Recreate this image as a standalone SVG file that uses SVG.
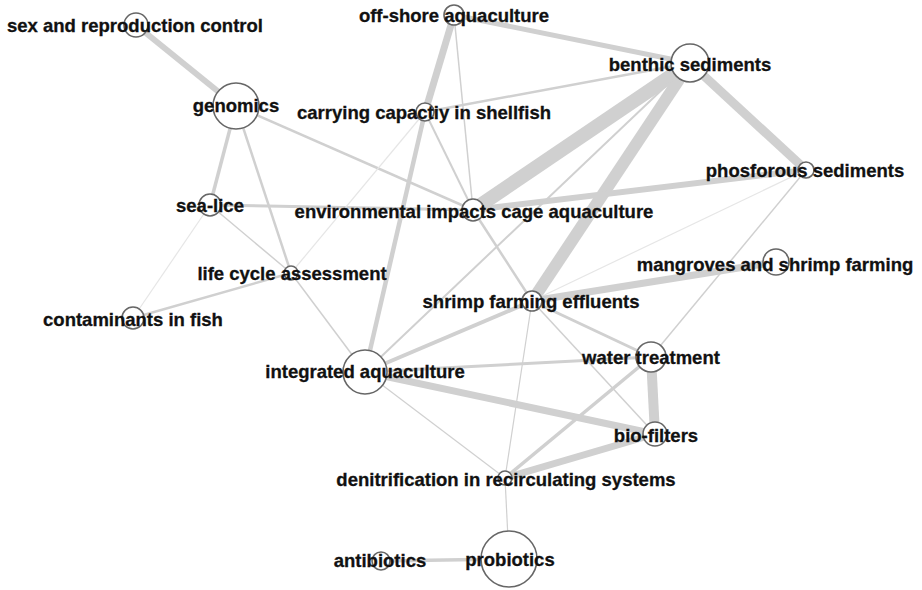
<svg xmlns="http://www.w3.org/2000/svg" width="922" height="590" viewBox="0 0 922 590">
<style>
.e{stroke:#d0d0d0;stroke-linecap:butt;fill:none}
.f{stroke:#e6e6e6;fill:none}
.n circle{fill:#fff;stroke:#666;stroke-width:1.6}
.n text{font-family:"Liberation Sans",Arial,sans-serif;font-weight:bold;font-size:18.5px;fill:#111;stroke:#111;stroke-width:0.3;text-anchor:middle}
</style>
<rect width="922" height="590" fill="#fff"/>
<g id="edges">
<line class="e" x1="136" y1="25" x2="236" y2="106" stroke-width="6"/>
<line class="e" x1="236" y1="106" x2="210" y2="205" stroke-width="3.5"/>
<line class="e" x1="236" y1="106" x2="291" y2="273" stroke-width="2.5"/>
<line class="e" x1="236" y1="106" x2="473" y2="210" stroke-width="2.5"/>
<line class="e" x1="210" y1="205" x2="473" y2="210" stroke-width="3"/>
<line class="e" x1="210" y1="205" x2="291" y2="273" stroke-width="1.5"/>
<line class="f" x1="210" y1="205" x2="133" y2="318" stroke-width="1.2"/>
<line class="e" x1="291" y1="273" x2="133" y2="318" stroke-width="2.5"/>
<line class="f" x1="291" y1="273" x2="425" y2="112" stroke-width="1.2"/>
<line class="e" x1="291" y1="273" x2="365" y2="372" stroke-width="1.5"/>
<line class="e" x1="454" y1="15" x2="425" y2="112" stroke-width="7"/>
<line class="e" x1="425" y1="112" x2="365" y2="372" stroke-width="4.5"/>
<line class="e" x1="454" y1="15" x2="473" y2="210" stroke-width="1.5"/>
<line class="e" x1="454" y1="15" x2="690" y2="63" stroke-width="5"/>
<line class="e" x1="425" y1="112" x2="690" y2="63" stroke-width="2.5"/>
<line class="e" x1="425" y1="112" x2="473" y2="210" stroke-width="2"/>
<line class="e" x1="473" y1="210" x2="690" y2="63" stroke-width="14"/>
<line class="e" x1="532" y1="301" x2="690" y2="63" stroke-width="12"/>
<line class="e" x1="690" y1="63" x2="806" y2="170" stroke-width="9"/>
<line class="e" x1="473" y1="210" x2="806" y2="170" stroke-width="6"/>
<line class="e" x1="690" y1="63" x2="365" y2="372" stroke-width="2"/>
<line class="e" x1="806" y1="170" x2="651" y2="357" stroke-width="1.5"/>
<line class="f" x1="806" y1="170" x2="532" y2="301" stroke-width="1.2"/>
<line class="e" x1="776" y1="262" x2="532" y2="301" stroke-width="7"/>
<line class="e" x1="473" y1="210" x2="532" y2="301" stroke-width="2.5"/>
<line class="e" x1="532" y1="301" x2="365" y2="372" stroke-width="4"/>
<line class="e" x1="365" y1="372" x2="651" y2="357" stroke-width="3"/>
<line class="e" x1="365" y1="372" x2="655" y2="434" stroke-width="7"/>
<line class="e" x1="365" y1="372" x2="505" y2="478" stroke-width="1.2"/>
<line class="e" x1="532" y1="301" x2="651" y2="357" stroke-width="3"/>
<line class="e" x1="532" y1="301" x2="655" y2="434" stroke-width="1.5"/>
<line class="e" x1="532" y1="301" x2="505" y2="478" stroke-width="1.2"/>
<line class="e" x1="651" y1="357" x2="655" y2="434" stroke-width="10"/>
<line class="e" x1="651" y1="357" x2="505" y2="478" stroke-width="3.5"/>
<line class="e" x1="655" y1="434" x2="505" y2="478" stroke-width="7"/>
<line class="e" x1="505" y1="478" x2="509" y2="559" stroke-width="1.2"/>
<line class="e" x1="381" y1="561" x2="509" y2="559" stroke-width="3.5"/>
</g>
<g id="n-sex" class="n"><circle cx="136" cy="25" r="12"/><text x="135" y="32">sex and reproduction control</text></g>
<g id="n-genomics" class="n"><circle cx="236" cy="106" r="23"/><text x="236" y="112">genomics</text></g>
<g id="n-offshore" class="n"><circle cx="454" cy="15" r="10"/><text x="454" y="22">off-shore aquaculture</text></g>
<g id="n-carrying" class="n"><circle cx="425" cy="112" r="9"/><text x="424" y="119">carrying capactiy in shellfish</text></g>
<g id="n-benthic" class="n"><circle cx="690" cy="63" r="19"/><text x="690" y="71">benthic sediments</text></g>
<g id="n-phos" class="n"><circle cx="806" cy="170" r="8"/><text x="805" y="177">phosforous sediments</text></g>
<g id="n-sealice" class="n"><circle cx="210" cy="205" r="11"/><text x="210" y="212">sea-lice</text></g>
<g id="n-env" class="n"><circle cx="473" cy="210" r="11"/><text x="474" y="218">environmental impacts cage aquaculture</text></g>
<g id="n-lca" class="n"><circle cx="291" cy="273" r="7"/><text x="292" y="280">life cycle assessment</text></g>
<g id="n-mangroves" class="n"><circle cx="776" cy="262" r="13"/><text x="775" y="271">mangroves and shrimp farming</text></g>
<g id="n-contaminants" class="n"><circle cx="133" cy="318" r="11"/><text x="133" y="326">contaminants in fish</text></g>
<g id="n-shrimp" class="n"><circle cx="532" cy="301" r="10"/><text x="531" y="308">shrimp farming effluents</text></g>
<g id="n-integrated" class="n"><circle cx="365" cy="372" r="22"/><text x="365" y="378">integrated aquaculture</text></g>
<g id="n-water" class="n"><circle cx="651" cy="357" r="15"/><text x="651" y="364">water treatment</text></g>
<g id="n-biofilters" class="n"><circle cx="655" cy="434" r="12"/><text x="656" y="442">bio-filters</text></g>
<g id="n-denit" class="n"><circle cx="505" cy="478" r="7"/><text x="506" y="486">denitrification in recirculating systems</text></g>
<g id="n-antibiotics" class="n"><circle cx="381" cy="561" r="9"/><text x="380" y="567">antibiotics</text></g>
<g id="n-probiotics" class="n"><circle cx="509" cy="559" r="28"/><text x="510" y="566">probiotics</text></g>
</svg>
